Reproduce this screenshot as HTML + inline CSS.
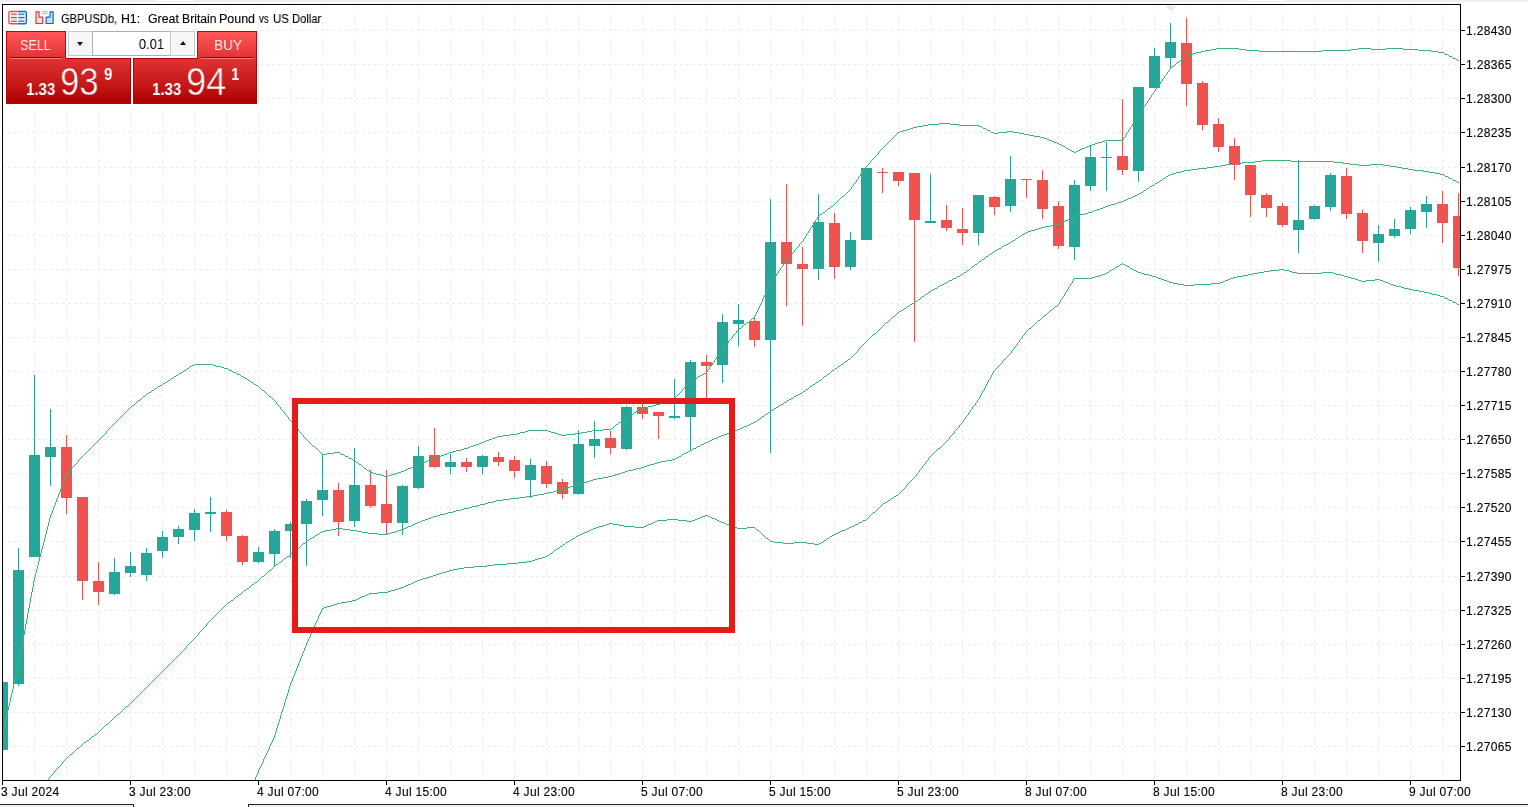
<!DOCTYPE html>
<html><head><meta charset="utf-8"><title>GBPUSDb H1</title>
<style>
html,body{margin:0;padding:0;background:#fff;}
body{width:1528px;height:807px;position:relative;overflow:hidden;font-family:"Liberation Sans",sans-serif;}
#chart{position:absolute;left:0;top:0;}
.pl{-webkit-text-stroke:0.12px #000;will-change:transform;position:absolute;left:1466px;font-size:12px;line-height:14px;height:14px;color:#000;letter-spacing:0.33px;white-space:nowrap;}
.tl{-webkit-text-stroke:0.12px #000;will-change:transform;position:absolute;top:785px;font-size:12px;line-height:14px;height:14px;color:#000;letter-spacing:0.3px;white-space:nowrap;}
#topstrip{position:absolute;left:0;top:0;width:1528px;height:2px;background:#f0f0f0;}
.notch{position:absolute;top:0;height:1px;background:#fff;}
#title{position:absolute;left:0;top:12px;font-size:12px;line-height:14px;color:#000;white-space:pre;}
.tw{-webkit-text-stroke:0.12px #000;will-change:transform;position:absolute;top:0;transform-origin:0 0;white-space:pre;}
#botline1{position:absolute;left:0;top:804px;width:134px;height:3px;border-top:1px solid #222;border-right:1px solid #222;box-sizing:border-box;background:#f0f0f0;}
#botline2{position:absolute;left:248px;top:804px;width:1280px;height:3px;border-top:1px solid #222;border-left:1px solid #222;box-sizing:border-box;background:#f0f0f0;}
/* one click panel */
#ocp{position:absolute;left:0;top:0;}
.btn{position:absolute;top:31px;height:28px;width:60px;box-sizing:border-box;border:1px solid #b80808;border-bottom:none;background:linear-gradient(#ff5656,#e23232);}
.btn span{will-change:transform;position:absolute;top:3.5px;left:0;font-size:15px;line-height:18px;color:#ffeeee;transform-origin:0 0;white-space:pre;}
.price{position:absolute;top:58px;height:46px;box-sizing:border-box;border:1px solid #b00505;background:linear-gradient(#e03333,#c81c1c 50%,#b00000);}
#ps{left:6px;width:125px;} #pb{left:133px;width:124px;}
.sep{position:absolute;top:57px;height:1px;width:52px;background:#8e0505;border-bottom:1px solid #ff7a7a;}
.small{will-change:transform;position:absolute;font-weight:bold;font-size:16px;line-height:18px;color:#fff;white-space:pre;transform-origin:0 0;transform:scaleX(0.94);}
.big{will-change:transform;position:absolute;font-size:39px;line-height:40px;color:#fff;transform-origin:0 0;transform:scaleX(0.89);-webkit-text-stroke:0.5px #c61b1b;white-space:pre;}
.sup{will-change:transform;position:absolute;font-weight:bold;font-size:16px;line-height:18px;color:#fff;white-space:pre;transform-origin:0 0;transform:scaleX(0.94);}
#spin{position:absolute;left:68px;top:31px;width:127px;height:25px;box-sizing:border-box;background:#fff;}
#spin .l{position:absolute;left:0;top:0;width:25px;height:25px;box-sizing:border-box;background:#f7f7f7;border:1px solid #c9c9c9;}
#spin .r{position:absolute;right:0;top:0;width:25px;height:25px;box-sizing:border-box;background:#f7f7f7;border:1px solid #c9c9c9;}
#spin .v{position:absolute;left:24px;width:79px;top:0;height:25px;box-sizing:border-box;border:1px solid #a9aebb;background:#fff;}
#spin .v span{will-change:transform;position:absolute;right:6px;top:2.5px;font-size:15px;line-height:18px;color:#000;transform-origin:100% 0;transform:scaleX(0.87);white-space:pre;}
.tri{position:absolute;width:0;height:0;border-left:3.5px solid transparent;border-right:3.5px solid transparent;}
#icons{position:absolute;left:0;top:0;}
</style></head><body>
<svg id="chart" width="1528" height="807" viewBox="0 0 1528 807" shape-rendering="crispEdges">
<defs><clipPath id="cp"><rect x="3" y="5" width="1457" height="775"/></clipPath></defs>
<line x1="34.5" y1="4" x2="34.5" y2="780" stroke="#efe9ef" stroke-dasharray="3 3"/>
<line x1="66.5" y1="4" x2="66.5" y2="780" stroke="#efe9ef" stroke-dasharray="3 3"/>
<line x1="98.5" y1="4" x2="98.5" y2="780" stroke="#efe9ef" stroke-dasharray="3 3"/>
<line x1="130.5" y1="4" x2="130.5" y2="780" stroke="#efe9ef" stroke-dasharray="3 3"/>
<line x1="162.5" y1="4" x2="162.5" y2="780" stroke="#efe9ef" stroke-dasharray="3 3"/>
<line x1="194.5" y1="4" x2="194.5" y2="780" stroke="#efe9ef" stroke-dasharray="3 3"/>
<line x1="226.5" y1="4" x2="226.5" y2="780" stroke="#efe9ef" stroke-dasharray="3 3"/>
<line x1="258.5" y1="4" x2="258.5" y2="780" stroke="#efe9ef" stroke-dasharray="3 3"/>
<line x1="290.5" y1="4" x2="290.5" y2="780" stroke="#efe9ef" stroke-dasharray="3 3"/>
<line x1="322.5" y1="4" x2="322.5" y2="780" stroke="#efe9ef" stroke-dasharray="3 3"/>
<line x1="354.5" y1="4" x2="354.5" y2="780" stroke="#efe9ef" stroke-dasharray="3 3"/>
<line x1="386.5" y1="4" x2="386.5" y2="780" stroke="#efe9ef" stroke-dasharray="3 3"/>
<line x1="418.5" y1="4" x2="418.5" y2="780" stroke="#efe9ef" stroke-dasharray="3 3"/>
<line x1="450.5" y1="4" x2="450.5" y2="780" stroke="#efe9ef" stroke-dasharray="3 3"/>
<line x1="482.5" y1="4" x2="482.5" y2="780" stroke="#efe9ef" stroke-dasharray="3 3"/>
<line x1="514.5" y1="4" x2="514.5" y2="780" stroke="#efe9ef" stroke-dasharray="3 3"/>
<line x1="546.5" y1="4" x2="546.5" y2="780" stroke="#efe9ef" stroke-dasharray="3 3"/>
<line x1="578.5" y1="4" x2="578.5" y2="780" stroke="#efe9ef" stroke-dasharray="3 3"/>
<line x1="610.5" y1="4" x2="610.5" y2="780" stroke="#efe9ef" stroke-dasharray="3 3"/>
<line x1="642.5" y1="4" x2="642.5" y2="780" stroke="#efe9ef" stroke-dasharray="3 3"/>
<line x1="674.5" y1="4" x2="674.5" y2="780" stroke="#efe9ef" stroke-dasharray="3 3"/>
<line x1="706.5" y1="4" x2="706.5" y2="780" stroke="#efe9ef" stroke-dasharray="3 3"/>
<line x1="738.5" y1="4" x2="738.5" y2="780" stroke="#efe9ef" stroke-dasharray="3 3"/>
<line x1="770.5" y1="4" x2="770.5" y2="780" stroke="#efe9ef" stroke-dasharray="3 3"/>
<line x1="802.5" y1="4" x2="802.5" y2="780" stroke="#efe9ef" stroke-dasharray="3 3"/>
<line x1="834.5" y1="4" x2="834.5" y2="780" stroke="#efe9ef" stroke-dasharray="3 3"/>
<line x1="866.5" y1="4" x2="866.5" y2="780" stroke="#efe9ef" stroke-dasharray="3 3"/>
<line x1="898.5" y1="4" x2="898.5" y2="780" stroke="#efe9ef" stroke-dasharray="3 3"/>
<line x1="930.5" y1="4" x2="930.5" y2="780" stroke="#efe9ef" stroke-dasharray="3 3"/>
<line x1="962.5" y1="4" x2="962.5" y2="780" stroke="#efe9ef" stroke-dasharray="3 3"/>
<line x1="994.5" y1="4" x2="994.5" y2="780" stroke="#efe9ef" stroke-dasharray="3 3"/>
<line x1="1026.5" y1="4" x2="1026.5" y2="780" stroke="#efe9ef" stroke-dasharray="3 3"/>
<line x1="1058.5" y1="4" x2="1058.5" y2="780" stroke="#efe9ef" stroke-dasharray="3 3"/>
<line x1="1090.5" y1="4" x2="1090.5" y2="780" stroke="#efe9ef" stroke-dasharray="3 3"/>
<line x1="1122.5" y1="4" x2="1122.5" y2="780" stroke="#efe9ef" stroke-dasharray="3 3"/>
<line x1="1154.5" y1="4" x2="1154.5" y2="780" stroke="#efe9ef" stroke-dasharray="3 3"/>
<line x1="1186.5" y1="4" x2="1186.5" y2="780" stroke="#efe9ef" stroke-dasharray="3 3"/>
<line x1="1218.5" y1="4" x2="1218.5" y2="780" stroke="#efe9ef" stroke-dasharray="3 3"/>
<line x1="1250.5" y1="4" x2="1250.5" y2="780" stroke="#efe9ef" stroke-dasharray="3 3"/>
<line x1="1282.5" y1="4" x2="1282.5" y2="780" stroke="#efe9ef" stroke-dasharray="3 3"/>
<line x1="1314.5" y1="4" x2="1314.5" y2="780" stroke="#efe9ef" stroke-dasharray="3 3"/>
<line x1="1346.5" y1="4" x2="1346.5" y2="780" stroke="#efe9ef" stroke-dasharray="3 3"/>
<line x1="1378.5" y1="4" x2="1378.5" y2="780" stroke="#efe9ef" stroke-dasharray="3 3"/>
<line x1="1410.5" y1="4" x2="1410.5" y2="780" stroke="#efe9ef" stroke-dasharray="3 3"/>
<line x1="1442.5" y1="4" x2="1442.5" y2="780" stroke="#efe9ef" stroke-dasharray="3 3"/>
<line x1="2" y1="30.5" x2="1460" y2="30.5" stroke="#efe9ef" stroke-dasharray="3 3"/>
<line x1="2" y1="64.5" x2="1460" y2="64.5" stroke="#efe9ef" stroke-dasharray="3 3"/>
<line x1="2" y1="98.5" x2="1460" y2="98.5" stroke="#efe9ef" stroke-dasharray="3 3"/>
<line x1="2" y1="132.5" x2="1460" y2="132.5" stroke="#efe9ef" stroke-dasharray="3 3"/>
<line x1="2" y1="167.5" x2="1460" y2="167.5" stroke="#efe9ef" stroke-dasharray="3 3"/>
<line x1="2" y1="201.5" x2="1460" y2="201.5" stroke="#efe9ef" stroke-dasharray="3 3"/>
<line x1="2" y1="235.5" x2="1460" y2="235.5" stroke="#efe9ef" stroke-dasharray="3 3"/>
<line x1="2" y1="269.5" x2="1460" y2="269.5" stroke="#efe9ef" stroke-dasharray="3 3"/>
<line x1="2" y1="303.5" x2="1460" y2="303.5" stroke="#efe9ef" stroke-dasharray="3 3"/>
<line x1="2" y1="337.5" x2="1460" y2="337.5" stroke="#efe9ef" stroke-dasharray="3 3"/>
<line x1="2" y1="371.5" x2="1460" y2="371.5" stroke="#efe9ef" stroke-dasharray="3 3"/>
<line x1="2" y1="405.5" x2="1460" y2="405.5" stroke="#efe9ef" stroke-dasharray="3 3"/>
<line x1="2" y1="439.5" x2="1460" y2="439.5" stroke="#efe9ef" stroke-dasharray="3 3"/>
<line x1="2" y1="473.5" x2="1460" y2="473.5" stroke="#efe9ef" stroke-dasharray="3 3"/>
<line x1="2" y1="507.5" x2="1460" y2="507.5" stroke="#efe9ef" stroke-dasharray="3 3"/>
<line x1="2" y1="541.5" x2="1460" y2="541.5" stroke="#efe9ef" stroke-dasharray="3 3"/>
<line x1="2" y1="576.5" x2="1460" y2="576.5" stroke="#efe9ef" stroke-dasharray="3 3"/>
<line x1="2" y1="610.5" x2="1460" y2="610.5" stroke="#efe9ef" stroke-dasharray="3 3"/>
<line x1="2" y1="644.5" x2="1460" y2="644.5" stroke="#efe9ef" stroke-dasharray="3 3"/>
<line x1="2" y1="678.5" x2="1460" y2="678.5" stroke="#efe9ef" stroke-dasharray="3 3"/>
<line x1="2" y1="712.5" x2="1460" y2="712.5" stroke="#efe9ef" stroke-dasharray="3 3"/>
<line x1="2" y1="746.5" x2="1460" y2="746.5" stroke="#efe9ef" stroke-dasharray="3 3"/>
<g clip-path="url(#cp)">
<rect x="2" y="682" width="1" height="68" fill="#26a69a"/>
<rect x="-3" y="682" width="11" height="68" fill="#26a69a"/>
<rect x="18" y="548" width="1" height="138" fill="#26a69a"/>
<rect x="13" y="570" width="11" height="114" fill="#26a69a"/>
<rect x="34" y="375" width="1" height="182" fill="#26a69a"/>
<rect x="29" y="455" width="11" height="102" fill="#26a69a"/>
<rect x="50" y="409" width="1" height="77" fill="#26a69a"/>
<rect x="45" y="447" width="11" height="10" fill="#26a69a"/>
<rect x="66" y="435" width="1" height="79" fill="#ef5350"/>
<rect x="61" y="447" width="11" height="51" fill="#ef5350"/>
<rect x="82" y="497" width="1" height="103" fill="#ef5350"/>
<rect x="77" y="497" width="11" height="84" fill="#ef5350"/>
<rect x="98" y="562" width="1" height="43" fill="#ef5350"/>
<rect x="93" y="581" width="11" height="11" fill="#ef5350"/>
<rect x="114" y="558" width="1" height="37" fill="#26a69a"/>
<rect x="109" y="572" width="11" height="22" fill="#26a69a"/>
<rect x="130" y="552" width="1" height="25" fill="#26a69a"/>
<rect x="125" y="566" width="11" height="7" fill="#26a69a"/>
<rect x="146" y="548" width="1" height="33" fill="#26a69a"/>
<rect x="141" y="553" width="11" height="22" fill="#26a69a"/>
<rect x="162" y="531" width="1" height="27" fill="#26a69a"/>
<rect x="157" y="537" width="11" height="14" fill="#26a69a"/>
<rect x="178" y="526" width="1" height="18" fill="#26a69a"/>
<rect x="173" y="529" width="11" height="8" fill="#26a69a"/>
<rect x="194" y="509" width="1" height="32" fill="#26a69a"/>
<rect x="189" y="513" width="11" height="17" fill="#26a69a"/>
<rect x="210" y="497" width="1" height="35" fill="#26a69a"/>
<rect x="205" y="512" width="11" height="2" fill="#26a69a"/>
<rect x="226" y="510" width="1" height="31" fill="#ef5350"/>
<rect x="221" y="512" width="11" height="24" fill="#ef5350"/>
<rect x="242" y="535" width="1" height="30" fill="#ef5350"/>
<rect x="237" y="536" width="11" height="26" fill="#ef5350"/>
<rect x="258" y="547" width="1" height="16" fill="#26a69a"/>
<rect x="253" y="552" width="11" height="10" fill="#26a69a"/>
<rect x="274" y="529" width="1" height="37" fill="#26a69a"/>
<rect x="269" y="531" width="11" height="23" fill="#26a69a"/>
<rect x="290" y="522" width="1" height="36" fill="#26a69a"/>
<rect x="285" y="524" width="11" height="7" fill="#26a69a"/>
<rect x="306" y="499" width="1" height="67" fill="#26a69a"/>
<rect x="301" y="501" width="11" height="23" fill="#26a69a"/>
<rect x="322" y="454" width="1" height="62" fill="#26a69a"/>
<rect x="317" y="490" width="11" height="10" fill="#26a69a"/>
<rect x="338" y="483" width="1" height="53" fill="#ef5350"/>
<rect x="333" y="490" width="11" height="32" fill="#ef5350"/>
<rect x="354" y="448" width="1" height="79" fill="#26a69a"/>
<rect x="349" y="485" width="11" height="36" fill="#26a69a"/>
<rect x="370" y="470" width="1" height="38" fill="#ef5350"/>
<rect x="365" y="485" width="11" height="21" fill="#ef5350"/>
<rect x="386" y="470" width="1" height="64" fill="#ef5350"/>
<rect x="381" y="504" width="11" height="19" fill="#ef5350"/>
<rect x="402" y="485" width="1" height="50" fill="#26a69a"/>
<rect x="397" y="486" width="11" height="37" fill="#26a69a"/>
<rect x="418" y="446" width="1" height="43" fill="#26a69a"/>
<rect x="413" y="456" width="11" height="32" fill="#26a69a"/>
<rect x="434" y="428" width="1" height="40" fill="#ef5350"/>
<rect x="429" y="455" width="11" height="12" fill="#ef5350"/>
<rect x="450" y="454" width="1" height="20" fill="#26a69a"/>
<rect x="445" y="462" width="11" height="5" fill="#26a69a"/>
<rect x="466" y="458" width="1" height="14" fill="#ef5350"/>
<rect x="461" y="462" width="11" height="5" fill="#ef5350"/>
<rect x="482" y="455" width="1" height="19" fill="#26a69a"/>
<rect x="477" y="456" width="11" height="11" fill="#26a69a"/>
<rect x="498" y="452" width="1" height="14" fill="#ef5350"/>
<rect x="493" y="457" width="11" height="5" fill="#ef5350"/>
<rect x="514" y="456" width="1" height="22" fill="#ef5350"/>
<rect x="509" y="460" width="11" height="11" fill="#ef5350"/>
<rect x="530" y="459" width="1" height="39" fill="#26a69a"/>
<rect x="525" y="465" width="11" height="15" fill="#26a69a"/>
<rect x="546" y="461" width="1" height="27" fill="#ef5350"/>
<rect x="541" y="466" width="11" height="18" fill="#ef5350"/>
<rect x="562" y="479" width="1" height="20" fill="#ef5350"/>
<rect x="557" y="482" width="11" height="12" fill="#ef5350"/>
<rect x="578" y="430" width="1" height="65" fill="#26a69a"/>
<rect x="573" y="444" width="11" height="50" fill="#26a69a"/>
<rect x="594" y="421" width="1" height="37" fill="#26a69a"/>
<rect x="589" y="439" width="11" height="7" fill="#26a69a"/>
<rect x="610" y="431" width="1" height="23" fill="#ef5350"/>
<rect x="605" y="438" width="11" height="10" fill="#ef5350"/>
<rect x="626" y="406" width="1" height="44" fill="#26a69a"/>
<rect x="621" y="407" width="11" height="42" fill="#26a69a"/>
<rect x="642" y="402" width="1" height="17" fill="#ef5350"/>
<rect x="637" y="407" width="11" height="7" fill="#ef5350"/>
<rect x="658" y="412" width="1" height="27" fill="#ef5350"/>
<rect x="653" y="412" width="11" height="4" fill="#ef5350"/>
<rect x="674" y="379" width="1" height="40" fill="#26a69a"/>
<rect x="669" y="416" width="11" height="2" fill="#26a69a"/>
<rect x="690" y="360" width="1" height="90" fill="#26a69a"/>
<rect x="685" y="362" width="11" height="55" fill="#26a69a"/>
<rect x="706" y="355" width="1" height="46" fill="#ef5350"/>
<rect x="701" y="362" width="11" height="4" fill="#ef5350"/>
<rect x="722" y="314" width="1" height="69" fill="#26a69a"/>
<rect x="717" y="322" width="11" height="43" fill="#26a69a"/>
<rect x="738" y="304" width="1" height="42" fill="#26a69a"/>
<rect x="733" y="320" width="11" height="4" fill="#26a69a"/>
<rect x="754" y="318" width="1" height="29" fill="#ef5350"/>
<rect x="749" y="321" width="11" height="19" fill="#ef5350"/>
<rect x="770" y="199" width="1" height="254" fill="#26a69a"/>
<rect x="765" y="242" width="11" height="98" fill="#26a69a"/>
<rect x="786" y="184" width="1" height="122" fill="#ef5350"/>
<rect x="781" y="242" width="11" height="22" fill="#ef5350"/>
<rect x="802" y="247" width="1" height="79" fill="#ef5350"/>
<rect x="797" y="264" width="11" height="5" fill="#ef5350"/>
<rect x="818" y="194" width="1" height="86" fill="#26a69a"/>
<rect x="813" y="222" width="11" height="47" fill="#26a69a"/>
<rect x="834" y="213" width="1" height="66" fill="#ef5350"/>
<rect x="829" y="223" width="11" height="44" fill="#ef5350"/>
<rect x="850" y="232" width="1" height="38" fill="#26a69a"/>
<rect x="845" y="240" width="11" height="27" fill="#26a69a"/>
<rect x="866" y="168" width="1" height="72" fill="#26a69a"/>
<rect x="861" y="168" width="11" height="72" fill="#26a69a"/>
<rect x="882" y="168" width="1" height="25" fill="#ef5350"/>
<rect x="877" y="172" width="11" height="1" fill="#ef5350"/>
<rect x="898" y="172" width="1" height="14" fill="#ef5350"/>
<rect x="893" y="172" width="11" height="9" fill="#ef5350"/>
<rect x="914" y="173" width="1" height="169" fill="#ef5350"/>
<rect x="909" y="173" width="11" height="47" fill="#ef5350"/>
<rect x="930" y="174" width="1" height="49" fill="#26a69a"/>
<rect x="925" y="221" width="11" height="2" fill="#26a69a"/>
<rect x="946" y="205" width="1" height="26" fill="#ef5350"/>
<rect x="941" y="220" width="11" height="8" fill="#ef5350"/>
<rect x="962" y="208" width="1" height="37" fill="#ef5350"/>
<rect x="957" y="229" width="11" height="4" fill="#ef5350"/>
<rect x="978" y="195" width="1" height="50" fill="#26a69a"/>
<rect x="973" y="195" width="11" height="38" fill="#26a69a"/>
<rect x="994" y="196" width="1" height="19" fill="#ef5350"/>
<rect x="989" y="197" width="11" height="10" fill="#ef5350"/>
<rect x="1010" y="156" width="1" height="56" fill="#26a69a"/>
<rect x="1005" y="179" width="11" height="27" fill="#26a69a"/>
<rect x="1026" y="179" width="1" height="19" fill="#ef5350"/>
<rect x="1021" y="179" width="11" height="1" fill="#ef5350"/>
<rect x="1042" y="170" width="1" height="49" fill="#ef5350"/>
<rect x="1037" y="180" width="11" height="29" fill="#ef5350"/>
<rect x="1058" y="201" width="1" height="48" fill="#ef5350"/>
<rect x="1053" y="206" width="11" height="40" fill="#ef5350"/>
<rect x="1074" y="180" width="1" height="80" fill="#26a69a"/>
<rect x="1069" y="185" width="11" height="62" fill="#26a69a"/>
<rect x="1090" y="145" width="1" height="46" fill="#26a69a"/>
<rect x="1085" y="157" width="11" height="29" fill="#26a69a"/>
<rect x="1106" y="142" width="1" height="49" fill="#26a69a"/>
<rect x="1101" y="157" width="11" height="1" fill="#26a69a"/>
<rect x="1122" y="99" width="1" height="76" fill="#ef5350"/>
<rect x="1117" y="156" width="11" height="14" fill="#ef5350"/>
<rect x="1138" y="87" width="1" height="95" fill="#26a69a"/>
<rect x="1133" y="87" width="11" height="84" fill="#26a69a"/>
<rect x="1154" y="48" width="1" height="40" fill="#26a69a"/>
<rect x="1149" y="56" width="11" height="32" fill="#26a69a"/>
<rect x="1170" y="23" width="1" height="46" fill="#26a69a"/>
<rect x="1165" y="42" width="11" height="16" fill="#26a69a"/>
<rect x="1186" y="18" width="1" height="88" fill="#ef5350"/>
<rect x="1181" y="43" width="11" height="41" fill="#ef5350"/>
<rect x="1202" y="81" width="1" height="49" fill="#ef5350"/>
<rect x="1197" y="83" width="11" height="42" fill="#ef5350"/>
<rect x="1218" y="118" width="1" height="34" fill="#ef5350"/>
<rect x="1213" y="124" width="11" height="23" fill="#ef5350"/>
<rect x="1234" y="138" width="1" height="42" fill="#ef5350"/>
<rect x="1229" y="146" width="11" height="19" fill="#ef5350"/>
<rect x="1250" y="165" width="1" height="52" fill="#ef5350"/>
<rect x="1245" y="165" width="11" height="30" fill="#ef5350"/>
<rect x="1266" y="193" width="1" height="24" fill="#ef5350"/>
<rect x="1261" y="195" width="11" height="13" fill="#ef5350"/>
<rect x="1282" y="203" width="1" height="24" fill="#ef5350"/>
<rect x="1277" y="206" width="11" height="19" fill="#ef5350"/>
<rect x="1298" y="160" width="1" height="93" fill="#26a69a"/>
<rect x="1293" y="220" width="11" height="10" fill="#26a69a"/>
<rect x="1314" y="205" width="1" height="15" fill="#26a69a"/>
<rect x="1309" y="206" width="11" height="13" fill="#26a69a"/>
<rect x="1330" y="173" width="1" height="38" fill="#26a69a"/>
<rect x="1325" y="175" width="11" height="32" fill="#26a69a"/>
<rect x="1346" y="168" width="1" height="51" fill="#ef5350"/>
<rect x="1341" y="176" width="11" height="38" fill="#ef5350"/>
<rect x="1362" y="210" width="1" height="43" fill="#ef5350"/>
<rect x="1357" y="213" width="11" height="28" fill="#ef5350"/>
<rect x="1378" y="225" width="1" height="37" fill="#26a69a"/>
<rect x="1373" y="234" width="11" height="9" fill="#26a69a"/>
<rect x="1394" y="219" width="1" height="19" fill="#26a69a"/>
<rect x="1389" y="229" width="11" height="7" fill="#26a69a"/>
<rect x="1410" y="207" width="1" height="27" fill="#26a69a"/>
<rect x="1405" y="210" width="11" height="19" fill="#26a69a"/>
<rect x="1426" y="196" width="1" height="32" fill="#26a69a"/>
<rect x="1421" y="204" width="11" height="8" fill="#26a69a"/>
<rect x="1442" y="191" width="1" height="52" fill="#ef5350"/>
<rect x="1437" y="204" width="11" height="19" fill="#ef5350"/>
<rect x="1458" y="193" width="1" height="83" fill="#ef5350"/>
<rect x="1453" y="216" width="11" height="52" fill="#ef5350"/>
<path d="M1216 48.5h23M1358 48.5h13M1386 48.5h17M1211 49.5h5M1239 49.5h7M1351 49.5h7M1371 49.5h15M1403 49.5h15M1205 50.5h6M1246 50.5h13M1322 50.5h29M1418 50.5h13M1201 51.5h4M1259 51.5h63M1431 51.5h7M1196 52.5h5M1438 52.5h6M1193 53.5h3M1188 54.5h5M1445 54.5h3M1186 55.5h2M1449 56.5h3M1183 57.5h2M1453 58.5h3M1457 60.5h2M1177 62.5h2M1172 66.5h2M939 123.5h11M928 124.5h11M950 124.5h9M923 125.5h5M959 125.5h20M917 126.5h6M979 126.5h3M913 127.5h4M910 128.5h3M983 128.5h3M907 129.5h3M903 130.5h4M987 130.5h3M900 131.5h3M1007 131.5h6M898 132.5h2M991 132.5h3M998 132.5h9M1013 132.5h6M994 133.5h4M1019 133.5h5M1024 134.5h5M1029 135.5h5M1034 136.5h6M1040 137.5h4M1044 138.5h3M1047 139.5h2M1049 140.5h3M1105 140.5h18M1052 141.5h2M1102 141.5h3M1054 142.5h3M1098 142.5h4M1057 143.5h2M1095 143.5h3M1059 144.5h2M1092 144.5h3M1061 145.5h2M1089 145.5h3M1063 146.5h2M1087 146.5h2M1085 147.5h2M1066 148.5h2M1082 148.5h3M1068 149.5h2M1080 149.5h2M1070 150.5h2M1078 150.5h2M1072 151.5h2M1076 151.5h2M1074 152.5h2M842 196.5h2M831 206.5h2M828 208.5h2M823 212.5h2M820 214.5h2M752 318.5h2M747 322.5h2M744 324.5h2M739 328.5h2M194 364.5h19M192 365.5h2M213 365.5h3M190 366.5h2M216 366.5h5M221 367.5h3M187 368.5h2M224 368.5h4M184 370.5h2M229 370.5h3M181 372.5h2M233 372.5h3M179 373.5h2M704 373.5h2M237 374.5h3M702 374.5h2M176 375.5h2M700 375.5h2M174 376.5h2M241 376.5h2M698 376.5h2M243 377.5h2M171 378.5h2M245 378.5h2M695 378.5h2M693 379.5h2M168 380.5h2M248 380.5h2M691 380.5h2M165 382.5h2M251 382.5h2M163 383.5h2M254 384.5h2M160 385.5h2M256 385.5h2M158 386.5h2M155 388.5h2M152 390.5h2M262 390.5h2M149 392.5h2M147 393.5h2M143 396.5h2M269 396.5h2M673 398.5h2M671 399.5h2M138 400.5h2M668 400.5h3M665 401.5h3M662 402.5h3M660 403.5h2M656 404.5h4M132 405.5h2M653 405.5h3M648 406.5h5M645 407.5h3M642 408.5h3M640 409.5h2M638 410.5h2M636 411.5h2M634 412.5h2M631 414.5h2M629 415.5h2M627 416.5h2M624 418.5h2M619 422.5h2M616 424.5h2M611 428.5h2M603 429.5h8M528 430.5h20M592 430.5h11M525 431.5h3M548 431.5h3M587 431.5h5M520 432.5h5M551 432.5h4M581 432.5h6M517 433.5h3M555 433.5h3M575 433.5h6M510 434.5h7M558 434.5h3M566 434.5h9M503 435.5h7M561 435.5h5M497 436.5h6M495 437.5h2M492 438.5h3M489 439.5h3M486 440.5h3M484 441.5h2M481 442.5h3M479 443.5h2M476 444.5h3M473 445.5h3M313 446.5h2M470 446.5h3M468 447.5h2M464 448.5h4M461 449.5h3M456 450.5h5M453 451.5h3M334 452.5h6M449 452.5h4M327 453.5h7M447 453.5h2M322 454.5h5M341 454.5h3M444 454.5h3M441 455.5h3M345 456.5h3M438 456.5h3M436 457.5h2M349 458.5h3M433 458.5h3M431 459.5h2M353 460.5h2M428 460.5h3M425 461.5h3M356 462.5h2M422 462.5h3M420 463.5h2M359 464.5h2M417 464.5h3M415 465.5h2M413 466.5h2M411 467.5h2M364 468.5h2M408 468.5h3M406 469.5h2M367 470.5h2M404 470.5h2M401 471.5h3M370 472.5h3M398 472.5h3M373 473.5h3M395 473.5h3M376 474.5h5M391 474.5h4M381 475.5h3M388 475.5h3M384 476.5h4M3.5 728v4M4.5 724v4M5.5 719v5M6.5 715v4M7.5 710v5M8.5 706v4M9.5 702v4M10.5 697v5M11.5 693v4M12.5 689v4M13.5 684v5M14.5 680v4M15.5 675v5M16.5 671v4M17.5 667v4M18.5 662v5M19.5 656v6M20.5 651v5M21.5 646v5M22.5 640v6M23.5 635v5M24.5 630v5M25.5 624v6M26.5 619v5M27.5 613v6M28.5 608v5M29.5 603v5M30.5 597v6M31.5 592v5M32.5 587v5M33.5 581v6M34.5 577v4M35.5 573v4M36.5 569v4M37.5 565v4M38.5 561v4M39.5 557v4M40.5 553v4M41.5 549v4M42.5 546v3M43.5 542v4M44.5 538v4M45.5 534v4M46.5 530v4M47.5 526v4M48.5 522v4M49.5 518v4M50.5 515v3M51.5 513v2M52.5 510v3M53.5 507v3M54.5 505v2M55.5 502v3M56.5 499v3M57.5 497v2M58.5 494v3M59.5 492v2M60.5 489v3M61.5 486v3M62.5 484v2M63.5 481v3M64.5 478v3M65.5 476v2M66.5 474v2M67.5 473v1M68.5 472v1M69.5 471v1M70.5 469v2M71.5 468v1M72.5 467v1M73.5 466v1M74.5 465v1M75.5 464v1M76.5 463v1M77.5 462v1M78.5 460v2M79.5 459v1M80.5 458v1M81.5 457v1M82.5 456v1M83.5 455v1M84.5 454v1M85.5 453v1M86.5 452v1M87.5 451v1M88.5 450v1M89.5 449v1M90.5 448v1M91.5 447v1M92.5 446v1M93.5 445v1M94.5 444v1M95.5 443v1M96.5 442v1M97.5 441v1M98.5 440v1M99.5 439v1M100.5 438v1M101.5 437v1M102.5 436v1M103.5 435v1M104.5 434v1M105.5 433v1M106.5 431v2M107.5 430v1M108.5 429v1M109.5 428v1M110.5 427v1M111.5 426v1M112.5 425v1M113.5 424v1M114.5 423v1M115.5 422v1M116.5 421v1M117.5 420v1M118.5 419v1M119.5 418v1M120.5 417v1M121.5 416v1M122.5 415v1M123.5 414v1M124.5 413v1M125.5 412v1M126.5 411v1M127.5 410v1M128.5 409v1M129.5 408v1M130.5 407v1M131.5 406v1M134.5 404v1M135.5 403v1M136.5 402v1M137.5 401v1M140.5 399v1M141.5 398v1M142.5 397v1M145.5 395v1M146.5 394v1M151.5 391v1M154.5 389v1M157.5 387v1M162.5 384v1M167.5 381v1M170.5 379v1M173.5 377v1M178.5 374v1M183.5 371v1M186.5 369v1M189.5 367v1M228.5 369v1M232.5 371v1M236.5 373v1M240.5 375v1M247.5 379v1M250.5 381v1M253.5 383v1M258.5 386v1M259.5 387v1M260.5 388v1M261.5 389v1M264.5 391v1M265.5 392v1M266.5 393v1M267.5 394v1M268.5 395v1M271.5 397v1M272.5 398v1M273.5 399v1M274.5 400v1M275.5 401v1M276.5 402v2M277.5 404v1M278.5 405v1M279.5 406v1M280.5 407v2M281.5 409v1M282.5 410v1M283.5 411v1M284.5 412v2M285.5 414v1M286.5 415v1M287.5 416v1M288.5 417v2M289.5 419v1M290.5 420v1M291.5 421v1M292.5 422v1M293.5 423v2M294.5 425v1M295.5 426v1M296.5 427v1M297.5 428v1M298.5 429v2M299.5 431v1M300.5 432v1M301.5 433v1M302.5 434v1M303.5 435v2M304.5 437v1M305.5 438v1M306.5 439v1M307.5 440v1M308.5 441v1M309.5 442v1M310.5 443v1M311.5 444v1M312.5 445v1M315.5 447v1M316.5 448v1M317.5 449v1M318.5 450v1M319.5 451v1M320.5 452v1M321.5 453v1M340.5 453v1M344.5 455v1M348.5 457v1M352.5 459v1M355.5 461v1M358.5 463v1M361.5 465v1M362.5 466v1M363.5 467v1M366.5 469v1M369.5 471v1M613.5 427v1M614.5 426v1M615.5 425v1M618.5 423v1M621.5 421v1M622.5 420v1M623.5 419v1M626.5 417v1M633.5 413v1M675.5 397v1M676.5 396v1M677.5 395v1M678.5 394v1M679.5 393v1M680.5 392v1M681.5 391v1M682.5 389v2M683.5 388v1M684.5 387v1M685.5 386v1M686.5 385v1M687.5 384v1M688.5 383v1M689.5 382v1M690.5 381v1M697.5 377v1M706.5 372v1M707.5 370v2M708.5 369v1M709.5 367v2M710.5 366v1M711.5 365v1M712.5 363v2M713.5 362v1M714.5 360v2M715.5 359v1M716.5 357v2M717.5 356v1M718.5 355v1M719.5 353v2M720.5 352v1M721.5 350v2M722.5 349v1M723.5 348v1M724.5 346v2M725.5 345v1M726.5 344v1M727.5 343v1M728.5 341v2M729.5 340v1M730.5 339v1M731.5 338v1M732.5 336v2M733.5 335v1M734.5 334v1M735.5 333v1M736.5 331v2M737.5 330v1M738.5 329v1M741.5 327v1M742.5 326v1M743.5 325v1M746.5 323v1M749.5 321v1M750.5 320v1M751.5 319v1M754.5 316v2M755.5 314v2M756.5 312v2M757.5 310v2M758.5 308v2M759.5 306v2M760.5 304v2M761.5 302v2M762.5 299v3M763.5 297v2M764.5 295v2M765.5 293v2M766.5 291v2M767.5 289v2M768.5 287v2M769.5 285v2M770.5 283v2M771.5 281v2M772.5 280v1M773.5 278v2M774.5 277v1M775.5 276v1M776.5 274v2M777.5 273v1M778.5 271v2M779.5 270v1M780.5 268v2M781.5 267v1M782.5 266v1M783.5 264v2M784.5 263v1M785.5 261v2M786.5 260v1M787.5 259v1M788.5 258v1M789.5 256v2M790.5 255v1M791.5 254v1M792.5 253v1M793.5 252v1M794.5 250v2M795.5 249v1M796.5 248v1M797.5 247v1M798.5 246v1M799.5 244v2M800.5 243v1M801.5 242v1M802.5 241v1M803.5 239v2M804.5 238v1M805.5 236v2M806.5 234v2M807.5 233v1M808.5 231v2M809.5 230v1M810.5 228v2M811.5 227v1M812.5 225v2M813.5 224v1M814.5 222v2M815.5 220v2M816.5 219v1M817.5 217v2M818.5 216v1M819.5 215v1M822.5 213v1M825.5 211v1M826.5 210v1M827.5 209v1M830.5 207v1M833.5 205v1M834.5 204v1M835.5 203v1M836.5 202v1M837.5 201v1M838.5 200v1M839.5 199v1M840.5 198v1M841.5 197v1M844.5 195v1M845.5 194v1M846.5 193v1M847.5 192v1M848.5 191v1M849.5 190v1M850.5 189v1M851.5 187v2M852.5 186v1M853.5 184v2M854.5 183v1M855.5 182v1M856.5 180v2M857.5 179v1M858.5 177v2M859.5 176v1M860.5 174v2M861.5 173v1M862.5 172v1M863.5 170v2M864.5 169v1M865.5 167v2M866.5 166v1M867.5 165v1M868.5 164v1M869.5 163v1M870.5 161v2M871.5 160v1M872.5 159v1M873.5 158v1M874.5 157v1M875.5 156v1M876.5 155v1M877.5 154v1M878.5 152v2M879.5 151v1M880.5 150v1M881.5 149v1M882.5 148v1M883.5 147v1M884.5 146v1M885.5 145v1M886.5 144v1M887.5 143v1M888.5 142v1M889.5 141v1M890.5 140v1M891.5 139v1M892.5 138v1M893.5 137v1M894.5 136v1M895.5 135v1M896.5 134v1M897.5 133v1M982.5 127v1M986.5 129v1M990.5 131v1M1065.5 147v1M1123.5 138v2M1124.5 137v1M1125.5 135v2M1126.5 133v2M1127.5 132v1M1128.5 130v2M1129.5 129v1M1130.5 127v2M1131.5 126v1M1132.5 124v2M1133.5 123v1M1134.5 121v2M1135.5 119v2M1136.5 118v1M1137.5 116v2M1138.5 115v1M1139.5 113v2M1140.5 112v1M1141.5 110v2M1142.5 109v1M1143.5 107v2M1144.5 106v1M1145.5 104v2M1146.5 103v1M1147.5 101v2M1148.5 100v1M1149.5 98v2M1150.5 97v1M1151.5 95v2M1152.5 94v1M1153.5 92v2M1154.5 91v1M1155.5 89v2M1156.5 88v1M1157.5 86v2M1158.5 85v1M1159.5 84v1M1160.5 82v2M1161.5 81v1M1162.5 79v2M1163.5 78v1M1164.5 76v2M1165.5 75v1M1166.5 74v1M1167.5 72v2M1168.5 71v1M1169.5 69v2M1170.5 68v1M1171.5 67v1M1174.5 65v1M1175.5 64v1M1176.5 63v1M1179.5 61v1M1180.5 60v1M1181.5 59v1M1182.5 58v1M1185.5 56v1M1444.5 53v1M1448.5 55v1M1452.5 57v1M1456.5 59v1" fill="none" stroke="#3cb371" stroke-width="1"/>
<path d="M1262 160.5h29M1255 161.5h7M1291 161.5h43M1242 162.5h13M1334 162.5h9M1232 163.5h10M1343 163.5h7M1226 164.5h6M1350 164.5h9M1370 164.5h13M1221 165.5h5M1359 165.5h11M1383 165.5h7M1214 166.5h7M1390 166.5h7M1207 167.5h7M1397 167.5h5M1198 168.5h9M1402 168.5h6M1191 169.5h7M1408 169.5h6M1184 170.5h7M1414 170.5h9M1181 171.5h3M1423 171.5h6M1176 172.5h5M1429 172.5h6M1173 173.5h3M1435 173.5h5M1170 174.5h3M1440 174.5h4M1168 175.5h2M1166 176.5h2M1445 176.5h3M1163 178.5h2M1449 178.5h3M1160 180.5h2M1453 180.5h3M1157 182.5h2M1457 182.5h2M1155 183.5h2M1152 185.5h2M1150 186.5h2M1147 188.5h2M1144 190.5h2M1141 192.5h2M1139 193.5h2M1137 194.5h2M1135 195.5h2M1133 196.5h2M1131 197.5h2M1128 198.5h3M1126 199.5h2M1124 200.5h2M1121 201.5h3M1118 202.5h3M1115 203.5h3M1111 204.5h4M1108 205.5h3M1105 206.5h3M1103 207.5h2M1100 208.5h3M1097 209.5h3M1094 210.5h3M1092 211.5h2M1088 212.5h4M1085 213.5h3M1080 214.5h5M1077 215.5h3M1073 216.5h4M1069 218.5h3M1065 220.5h3M1061 222.5h3M1056 224.5h4M1051 225.5h5M1045 226.5h6M1041 227.5h4M1038 228.5h3M1035 229.5h3M1031 230.5h4M1028 231.5h3M1026 232.5h2M1024 233.5h2M1022 234.5h2M1019 236.5h2M1016 238.5h2M1013 240.5h2M1011 241.5h2M1008 243.5h2M1006 244.5h2M1004 245.5h2M1002 246.5h2M999 248.5h2M997 249.5h2M995 250.5h2M992 252.5h2M989 254.5h2M986 256.5h2M982 259.5h2M979 261.5h2M975 264.5h2M972 266.5h2M967 270.5h2M964 272.5h2M961 274.5h2M957 276.5h3M953 278.5h3M949 280.5h3M946 282.5h2M944 283.5h2M942 284.5h2M940 285.5h2M938 286.5h2M935 288.5h2M933 289.5h2M931 290.5h2M928 292.5h2M925 294.5h2M922 296.5h2M918 299.5h2M915 301.5h2M912 303.5h2M910 304.5h2M907 306.5h2M904 308.5h2M901 310.5h2M899 311.5h2M893 316.5h2M886 322.5h2M873 334.5h2M848 359.5h2M845 361.5h2M841 364.5h2M838 366.5h2M835 368.5h2M832 370.5h2M827 374.5h2M824 376.5h2M819 380.5h2M816 382.5h2M813 384.5h2M810 386.5h2M806 389.5h2M803 391.5h2M800 393.5h2M798 394.5h2M796 395.5h2M794 396.5h2M791 398.5h2M789 399.5h2M787 400.5h2M784 402.5h2M781 404.5h2M779 405.5h2M776 407.5h2M774 408.5h2M771 410.5h2M768 412.5h2M765 414.5h2M762 416.5h2M758 419.5h2M755 421.5h2M753 422.5h2M751 423.5h2M749 424.5h2M747 425.5h2M744 426.5h3M742 427.5h2M740 428.5h2M737 429.5h3M734 430.5h3M732 431.5h2M729 432.5h3M727 433.5h2M724 434.5h3M721 435.5h3M719 436.5h2M717 437.5h2M714 438.5h3M712 439.5h2M710 440.5h2M708 441.5h2M705 442.5h3M701 444.5h3M697 446.5h3M693 448.5h3M690 450.5h2M688 451.5h2M686 452.5h2M684 453.5h2M682 454.5h2M679 456.5h2M677 457.5h2M675 458.5h2M672 459.5h3M666 460.5h6M661 461.5h5M657 462.5h4M654 463.5h3M650 464.5h4M647 465.5h3M644 466.5h3M641 467.5h3M636 468.5h5M633 469.5h3M628 470.5h5M625 471.5h3M622 472.5h3M619 473.5h3M615 474.5h4M612 475.5h3M608 476.5h4M603 477.5h5M597 478.5h6M593 479.5h4M590 480.5h3M587 481.5h3M583 482.5h4M580 483.5h3M577 484.5h3M574 485.5h3M570 486.5h4M567 487.5h3M564 488.5h3M561 489.5h3M556 490.5h5M553 491.5h3M548 492.5h5M544 493.5h4M538 494.5h6M533 495.5h5M526 496.5h7M519 497.5h7M510 498.5h9M503 499.5h7M496 500.5h7M493 501.5h3M488 502.5h5M485 503.5h3M480 504.5h5M477 505.5h3M472 506.5h5M469 507.5h3M464 508.5h5M461 509.5h3M456 510.5h5M453 511.5h3M448 512.5h5M445 513.5h3M440 514.5h5M437 515.5h3M433 516.5h4M431 517.5h2M428 518.5h3M425 519.5h3M422 520.5h3M420 521.5h2M417 522.5h3M415 523.5h2M413 524.5h2M411 525.5h2M408 526.5h3M406 527.5h2M336 528.5h7M404 528.5h2M331 529.5h5M343 529.5h7M401 529.5h3M325 530.5h6M350 530.5h7M398 530.5h3M322 531.5h3M357 531.5h5M395 531.5h3M320 532.5h2M362 532.5h6M391 532.5h4M368 533.5h10M388 533.5h3M317 534.5h2M378 534.5h10M315 535.5h2M312 537.5h2M310 538.5h2M307 540.5h2M303 543.5h2M297 548.5h2M292 552.5h2M287 556.5h2M284 558.5h2M279 562.5h2M276 564.5h2M269 570.5h2M262 576.5h2M255 582.5h2M252 584.5h2M247 588.5h2M244 590.5h2M239 594.5h2M236 596.5h2M231 600.5h2M228 602.5h2M126 706.5h2M117 714.5h2M106 724.5h2M95 734.5h2M92 736.5h2M87 740.5h2M84 742.5h2M77 748.5h2M70 754.5h2M48.5 779v1M49.5 777v2M50.5 776v1M51.5 775v1M52.5 774v1M53.5 773v1M54.5 771v2M55.5 770v1M56.5 769v1M57.5 768v1M58.5 767v1M59.5 766v1M60.5 765v1M61.5 764v1M62.5 762v2M63.5 761v1M64.5 760v1M65.5 759v1M66.5 758v1M67.5 757v1M68.5 756v1M69.5 755v1M72.5 753v1M73.5 752v1M74.5 751v1M75.5 750v1M76.5 749v1M79.5 747v1M80.5 746v1M81.5 745v1M82.5 744v1M83.5 743v1M86.5 741v1M89.5 739v1M90.5 738v1M91.5 737v1M94.5 735v1M97.5 733v1M98.5 732v1M99.5 731v1M100.5 730v1M101.5 729v1M102.5 728v1M103.5 727v1M104.5 726v1M105.5 725v1M108.5 723v1M109.5 722v1M110.5 721v1M111.5 720v1M112.5 719v1M113.5 718v1M114.5 717v1M115.5 716v1M116.5 715v1M119.5 713v1M120.5 712v1M121.5 711v1M122.5 710v1M123.5 709v1M124.5 708v1M125.5 707v1M128.5 705v1M129.5 704v1M130.5 703v1M131.5 702v1M132.5 701v1M133.5 700v1M134.5 699v1M135.5 698v1M136.5 697v1M137.5 696v1M138.5 695v1M139.5 694v1M140.5 693v1M141.5 692v1M142.5 691v1M143.5 690v1M144.5 689v1M145.5 688v1M146.5 687v1M147.5 686v1M148.5 685v1M149.5 684v1M150.5 683v1M151.5 682v1M152.5 681v1M153.5 680v1M154.5 679v1M155.5 678v1M156.5 677v1M157.5 676v1M158.5 675v1M159.5 674v1M160.5 673v1M161.5 672v1M162.5 671v1M163.5 670v1M164.5 669v1M165.5 668v1M166.5 667v1M167.5 666v1M168.5 665v1M169.5 664v1M170.5 663v1M171.5 662v1M172.5 661v1M173.5 660v1M174.5 659v1M175.5 658v1M176.5 657v1M177.5 656v1M178.5 655v1M179.5 654v1M180.5 653v1M181.5 652v1M182.5 651v1M183.5 650v1M184.5 649v1M185.5 648v1M186.5 646v2M187.5 645v1M188.5 644v1M189.5 643v1M190.5 642v1M191.5 641v1M192.5 640v1M193.5 639v1M194.5 638v1M195.5 637v1M196.5 636v1M197.5 635v1M198.5 633v2M199.5 632v1M200.5 631v1M201.5 630v1M202.5 629v1M203.5 628v1M204.5 627v1M205.5 626v1M206.5 624v2M207.5 623v1M208.5 622v1M209.5 621v1M210.5 620v1M211.5 619v1M212.5 618v1M213.5 617v1M214.5 616v1M215.5 615v1M216.5 614v1M217.5 613v1M218.5 612v1M219.5 611v1M220.5 610v1M221.5 609v1M222.5 608v1M223.5 607v1M224.5 606v1M225.5 605v1M226.5 604v1M227.5 603v1M230.5 601v1M233.5 599v1M234.5 598v1M235.5 597v1M238.5 595v1M241.5 593v1M242.5 592v1M243.5 591v1M246.5 589v1M249.5 587v1M250.5 586v1M251.5 585v1M254.5 583v1M257.5 581v1M258.5 580v1M259.5 579v1M260.5 578v1M261.5 577v1M264.5 575v1M265.5 574v1M266.5 573v1M267.5 572v1M268.5 571v1M271.5 569v1M272.5 568v1M273.5 567v1M274.5 566v1M275.5 565v1M278.5 563v1M281.5 561v1M282.5 560v1M283.5 559v1M286.5 557v1M289.5 555v1M290.5 554v1M291.5 553v1M294.5 551v1M295.5 550v1M296.5 549v1M299.5 547v1M300.5 546v1M301.5 545v1M302.5 544v1M305.5 542v1M306.5 541v1M309.5 539v1M314.5 536v1M319.5 533v1M681.5 455v1M692.5 449v1M696.5 447v1M700.5 445v1M704.5 443v1M757.5 420v1M760.5 418v1M761.5 417v1M764.5 415v1M767.5 413v1M770.5 411v1M773.5 409v1M778.5 406v1M783.5 403v1M786.5 401v1M793.5 397v1M802.5 392v1M805.5 390v1M808.5 388v1M809.5 387v1M812.5 385v1M815.5 383v1M818.5 381v1M821.5 379v1M822.5 378v1M823.5 377v1M826.5 375v1M829.5 373v1M830.5 372v1M831.5 371v1M834.5 369v1M837.5 367v1M840.5 365v1M843.5 363v1M844.5 362v1M847.5 360v1M850.5 358v1M851.5 357v1M852.5 356v1M853.5 355v1M854.5 354v1M855.5 353v1M856.5 352v1M857.5 351v1M858.5 349v2M859.5 348v1M860.5 347v1M861.5 346v1M862.5 345v1M863.5 344v1M864.5 343v1M865.5 342v1M866.5 341v1M867.5 340v1M868.5 339v1M869.5 338v1M870.5 337v1M871.5 336v1M872.5 335v1M875.5 333v1M876.5 332v1M877.5 331v1M878.5 330v1M879.5 329v1M880.5 328v1M881.5 327v1M882.5 326v1M883.5 325v1M884.5 324v1M885.5 323v1M888.5 321v1M889.5 320v1M890.5 319v1M891.5 318v1M892.5 317v1M895.5 315v1M896.5 314v1M897.5 313v1M898.5 312v1M903.5 309v1M906.5 307v1M909.5 305v1M914.5 302v1M917.5 300v1M920.5 298v1M921.5 297v1M924.5 295v1M927.5 293v1M930.5 291v1M937.5 287v1M948.5 281v1M952.5 279v1M956.5 277v1M960.5 275v1M963.5 273v1M966.5 271v1M969.5 269v1M970.5 268v1M971.5 267v1M974.5 265v1M977.5 263v1M978.5 262v1M981.5 260v1M984.5 258v1M985.5 257v1M988.5 255v1M991.5 253v1M994.5 251v1M1001.5 247v1M1010.5 242v1M1015.5 239v1M1018.5 237v1M1021.5 235v1M1060.5 223v1M1064.5 221v1M1068.5 219v1M1072.5 217v1M1143.5 191v1M1146.5 189v1M1149.5 187v1M1154.5 184v1M1159.5 181v1M1162.5 179v1M1165.5 177v1M1444.5 175v1M1448.5 177v1M1452.5 179v1M1456.5 181v1" fill="none" stroke="#3cb371" stroke-width="1"/>
<path d="M1120 264.5h2M1123 264.5h2M1125 265.5h2M1117 266.5h2M1127 266.5h2M1115 267.5h2M1130 268.5h2M1112 269.5h2M1132 269.5h2M1279 269.5h5M1110 270.5h2M1134 270.5h2M1270 270.5h9M1284 270.5h5M1136 271.5h2M1264 271.5h6M1289 271.5h3M1107 272.5h2M1138 272.5h3M1258 272.5h6M1292 272.5h5M1322 272.5h11M1105 273.5h2M1141 273.5h3M1253 273.5h5M1297 273.5h25M1333 273.5h3M1102 274.5h3M1144 274.5h5M1248 274.5h5M1336 274.5h5M1099 275.5h3M1149 275.5h3M1243 275.5h5M1341 275.5h3M1095 276.5h4M1152 276.5h4M1237 276.5h6M1344 276.5h4M1092 277.5h3M1156 277.5h2M1233 277.5h4M1348 277.5h3M1074 278.5h18M1158 278.5h3M1230 278.5h3M1351 278.5h4M1161 279.5h3M1228 279.5h2M1355 279.5h3M1375 279.5h5M1164 280.5h3M1225 280.5h3M1358 280.5h3M1366 280.5h9M1380 280.5h3M1167 281.5h2M1223 281.5h2M1361 281.5h5M1383 281.5h2M1169 282.5h4M1220 282.5h3M1385 282.5h3M1173 283.5h5M1211 283.5h9M1388 283.5h2M1178 284.5h6M1194 284.5h17M1390 284.5h3M1184 285.5h10M1393 285.5h3M1396 286.5h5M1401 287.5h3M1404 288.5h5M1409 289.5h4M1413 290.5h6M1419 291.5h5M1424 292.5h5M1429 293.5h3M1432 294.5h5M1437 295.5h3M1440 296.5h4M1445 298.5h3M1449 300.5h3M1453 302.5h3M1457 304.5h2M1055 306.5h2M1050 310.5h2M1044 315.5h2M1038 320.5h2M1029 328.5h2M938 448.5h2M896 495.5h2M894 496.5h2M891 498.5h2M888 500.5h2M885 502.5h2M883 503.5h2M873 512.5h2M705 515.5h3M702 516.5h3M708 516.5h2M700 517.5h2M710 517.5h2M697 518.5h3M712 518.5h3M667 519.5h11M695 519.5h2M715 519.5h2M657 520.5h10M678 520.5h9M692 520.5h3M717 520.5h2M863 520.5h3M655 521.5h2M687 521.5h5M719 521.5h2M653 522.5h2M721 522.5h3M859 522.5h3M609 523.5h4M651 523.5h2M724 523.5h2M606 524.5h3M613 524.5h6M648 524.5h3M726 524.5h3M855 524.5h3M603 525.5h3M619 525.5h5M646 525.5h2M729 525.5h3M599 526.5h4M624 526.5h11M644 526.5h2M732 526.5h3M851 526.5h3M596 527.5h3M635 527.5h9M735 527.5h2M747 527.5h8M849 527.5h2M593 528.5h3M737 528.5h10M847 528.5h2M591 529.5h2M845 529.5h2M589 530.5h2M757 530.5h2M842 530.5h3M587 531.5h2M840 531.5h2M584 532.5h3M838 532.5h2M582 533.5h2M836 533.5h2M580 534.5h2M834 534.5h2M578 535.5h2M832 535.5h2M576 536.5h2M830 536.5h2M573 538.5h2M766 538.5h2M827 538.5h2M571 539.5h2M824 540.5h2M568 541.5h2M770 541.5h4M566 542.5h2M774 542.5h9M794 542.5h13M821 542.5h2M783 543.5h11M807 543.5h7M819 543.5h2M563 544.5h2M814 544.5h5M560 546.5h2M557 548.5h2M554 550.5h2M550 553.5h2M547 555.5h2M545 556.5h2M542 557.5h3M538 558.5h4M535 559.5h3M532 560.5h3M527 561.5h5M518 562.5h9M507 563.5h11M494 564.5h13M487 565.5h7M474 566.5h13M464 567.5h10M458 568.5h6M453 569.5h5M449 570.5h4M446 571.5h3M442 572.5h4M439 573.5h3M436 574.5h3M433 575.5h3M430 576.5h3M427 577.5h3M423 578.5h4M420 579.5h3M417 580.5h3M415 581.5h2M413 582.5h2M411 583.5h2M408 584.5h3M406 585.5h2M404 586.5h2M401 587.5h3M398 588.5h3M395 589.5h3M391 590.5h4M388 591.5h3M378 592.5h10M369 593.5h9M367 594.5h2M365 595.5h2M362 596.5h3M360 597.5h2M358 598.5h2M356 599.5h2M352 600.5h4M347 601.5h5M341 602.5h6M337 603.5h4M334 604.5h3M331 605.5h3M327 606.5h4M324 607.5h3M322 608.5h2M255.5 777v3M256.5 775v2M257.5 773v2M258.5 770v3M259.5 768v2M260.5 766v2M261.5 764v2M262.5 762v2M263.5 759v3M264.5 757v2M265.5 755v2M266.5 753v2M267.5 751v2M268.5 749v2M269.5 746v3M270.5 744v2M271.5 742v2M272.5 740v2M273.5 738v2M274.5 735v3M275.5 732v3M276.5 728v4M277.5 725v3M278.5 722v3M279.5 719v3M280.5 715v4M281.5 712v3M282.5 709v3M283.5 706v3M284.5 702v4M285.5 699v3M286.5 696v3M287.5 693v3M288.5 689v4M289.5 686v3M290.5 683v3M291.5 681v2M292.5 678v3M293.5 676v2M294.5 673v3M295.5 671v2M296.5 668v3M297.5 666v2M298.5 663v3M299.5 661v2M300.5 658v3M301.5 656v2M302.5 653v3M303.5 651v2M304.5 648v3M305.5 646v2M306.5 643v3M307.5 641v2M308.5 639v2M309.5 637v2M310.5 634v3M311.5 632v2M312.5 630v2M313.5 628v2M314.5 625v3M315.5 623v2M316.5 621v2M317.5 619v2M318.5 616v3M319.5 614v2M320.5 612v2M321.5 610v2M322.5 609v1M549.5 554v1M552.5 552v1M553.5 551v1M556.5 549v1M559.5 547v1M562.5 545v1M565.5 543v1M570.5 540v1M575.5 537v1M755.5 528v1M756.5 529v1M759.5 531v1M760.5 532v1M761.5 533v1M762.5 534v1M763.5 535v1M764.5 536v1M765.5 537v1M768.5 539v1M769.5 540v1M823.5 541v1M826.5 539v1M829.5 537v1M854.5 525v1M858.5 523v1M862.5 521v1M866.5 519v1M867.5 518v1M868.5 517v1M869.5 516v1M870.5 515v1M871.5 514v1M872.5 513v1M875.5 511v1M876.5 510v1M877.5 509v1M878.5 508v1M879.5 507v1M880.5 506v1M881.5 505v1M882.5 504v1M887.5 501v1M890.5 499v1M893.5 497v1M898.5 494v1M899.5 493v1M900.5 492v1M901.5 491v1M902.5 490v1M903.5 489v1M904.5 488v1M905.5 487v1M906.5 485v2M907.5 484v1M908.5 483v1M909.5 482v1M910.5 481v1M911.5 480v1M912.5 479v1M913.5 478v1M914.5 477v1M915.5 476v1M916.5 474v2M917.5 473v1M918.5 472v1M919.5 470v2M920.5 469v1M921.5 468v1M922.5 466v2M923.5 465v1M924.5 464v1M925.5 462v2M926.5 461v1M927.5 460v1M928.5 458v2M929.5 457v1M930.5 456v1M931.5 455v1M932.5 454v1M933.5 453v1M934.5 452v1M935.5 451v1M936.5 450v1M937.5 449v1M940.5 447v1M941.5 446v1M942.5 445v1M943.5 444v1M944.5 443v1M945.5 442v1M946.5 441v1M947.5 440v1M948.5 439v1M949.5 437v2M950.5 436v1M951.5 435v1M952.5 434v1M953.5 433v1M954.5 431v2M955.5 430v1M956.5 429v1M957.5 428v1M958.5 427v1M959.5 425v2M960.5 424v1M961.5 423v1M962.5 422v1M963.5 420v2M964.5 419v1M965.5 417v2M966.5 416v1M967.5 415v1M968.5 413v2M969.5 412v1M970.5 410v2M971.5 409v1M972.5 407v2M973.5 406v1M974.5 405v1M975.5 403v2M976.5 402v1M977.5 400v2M978.5 399v1M979.5 397v2M980.5 395v2M981.5 393v2M982.5 391v2M983.5 390v1M984.5 388v2M985.5 386v2M986.5 384v2M987.5 382v2M988.5 380v2M989.5 379v1M990.5 377v2M991.5 375v2M992.5 373v2M993.5 371v2M994.5 370v1M995.5 369v1M996.5 368v1M997.5 367v1M998.5 366v1M999.5 365v1M1000.5 364v1M1001.5 363v1M1002.5 361v2M1003.5 360v1M1004.5 359v1M1005.5 358v1M1006.5 357v1M1007.5 356v1M1008.5 355v1M1009.5 354v1M1010.5 353v1M1011.5 351v2M1012.5 350v1M1013.5 349v1M1014.5 347v2M1015.5 346v1M1016.5 345v1M1017.5 343v2M1018.5 342v1M1019.5 340v2M1020.5 339v1M1021.5 338v1M1022.5 336v2M1023.5 335v1M1024.5 334v1M1025.5 332v2M1026.5 331v1M1027.5 330v1M1028.5 329v1M1031.5 327v1M1032.5 326v1M1033.5 325v1M1034.5 324v1M1035.5 323v1M1036.5 322v1M1037.5 321v1M1040.5 319v1M1041.5 318v1M1042.5 317v1M1043.5 316v1M1046.5 314v1M1047.5 313v1M1048.5 312v1M1049.5 311v1M1052.5 309v1M1053.5 308v1M1054.5 307v1M1057.5 305v1M1058.5 304v1M1059.5 302v2M1060.5 300v2M1061.5 299v1M1062.5 297v2M1063.5 296v1M1064.5 294v2M1065.5 292v2M1066.5 291v1M1067.5 289v2M1068.5 287v2M1069.5 286v1M1070.5 284v2M1071.5 283v1M1072.5 281v2M1073.5 279v2M1109.5 271v1M1114.5 268v1M1119.5 265v1M1122.5 263v1M1129.5 267v1M1444.5 297v1M1448.5 299v1M1452.5 301v1M1456.5 303v1" fill="none" stroke="#3cb371" stroke-width="1"/>
</g>
<polygon points="1165,6 1176,6 1170.5,11.5" fill="#ece6ec"/>
<rect x="295" y="401" width="437" height="229" fill="none" stroke="#e31b1b" stroke-width="6"/>
<rect x="2" y="4" width="1459" height="1" fill="#000"/>
<rect x="2" y="4" width="1" height="777" fill="#000"/>
<rect x="1460" y="4" width="1" height="777" fill="#000"/>
<rect x="2" y="780" width="1459" height="1" fill="#000"/>
<rect x="1461" y="30" width="4" height="1" fill="#000"/>
<rect x="1461" y="64" width="4" height="1" fill="#000"/>
<rect x="1461" y="98" width="4" height="1" fill="#000"/>
<rect x="1461" y="132" width="4" height="1" fill="#000"/>
<rect x="1461" y="167" width="4" height="1" fill="#000"/>
<rect x="1461" y="201" width="4" height="1" fill="#000"/>
<rect x="1461" y="235" width="4" height="1" fill="#000"/>
<rect x="1461" y="269" width="4" height="1" fill="#000"/>
<rect x="1461" y="303" width="4" height="1" fill="#000"/>
<rect x="1461" y="337" width="4" height="1" fill="#000"/>
<rect x="1461" y="371" width="4" height="1" fill="#000"/>
<rect x="1461" y="405" width="4" height="1" fill="#000"/>
<rect x="1461" y="439" width="4" height="1" fill="#000"/>
<rect x="1461" y="473" width="4" height="1" fill="#000"/>
<rect x="1461" y="507" width="4" height="1" fill="#000"/>
<rect x="1461" y="541" width="4" height="1" fill="#000"/>
<rect x="1461" y="576" width="4" height="1" fill="#000"/>
<rect x="1461" y="610" width="4" height="1" fill="#000"/>
<rect x="1461" y="644" width="4" height="1" fill="#000"/>
<rect x="1461" y="678" width="4" height="1" fill="#000"/>
<rect x="1461" y="712" width="4" height="1" fill="#000"/>
<rect x="1461" y="746" width="4" height="1" fill="#000"/>
<rect x="2" y="781" width="1" height="4" fill="#000"/>
<rect x="130" y="781" width="1" height="4" fill="#000"/>
<rect x="258" y="781" width="1" height="4" fill="#000"/>
<rect x="386" y="781" width="1" height="4" fill="#000"/>
<rect x="514" y="781" width="1" height="4" fill="#000"/>
<rect x="642" y="781" width="1" height="4" fill="#000"/>
<rect x="770" y="781" width="1" height="4" fill="#000"/>
<rect x="898" y="781" width="1" height="4" fill="#000"/>
<rect x="1026" y="781" width="1" height="4" fill="#000"/>
<rect x="1154" y="781" width="1" height="4" fill="#000"/>
<rect x="1282" y="781" width="1" height="4" fill="#000"/>
<rect x="1410" y="781" width="1" height="4" fill="#000"/>
</svg>
<div id="topstrip"></div><div class="notch" style="left:157px;width:37px"></div><div class="notch" style="left:1247px;width:37px"></div>
<div class="pl" style="top:24px">1.28430</div><div class="pl" style="top:58px">1.28365</div><div class="pl" style="top:92px">1.28300</div><div class="pl" style="top:126px">1.28235</div><div class="pl" style="top:161px">1.28170</div><div class="pl" style="top:195px">1.28105</div><div class="pl" style="top:229px">1.28040</div><div class="pl" style="top:263px">1.27975</div><div class="pl" style="top:297px">1.27910</div><div class="pl" style="top:331px">1.27845</div><div class="pl" style="top:365px">1.27780</div><div class="pl" style="top:399px">1.27715</div><div class="pl" style="top:433px">1.27650</div><div class="pl" style="top:467px">1.27585</div><div class="pl" style="top:501px">1.27520</div><div class="pl" style="top:535px">1.27455</div><div class="pl" style="top:570px">1.27390</div><div class="pl" style="top:604px">1.27325</div><div class="pl" style="top:638px">1.27260</div><div class="pl" style="top:672px">1.27195</div><div class="pl" style="top:706px">1.27130</div><div class="pl" style="top:740px">1.27065</div>
<div class="tl" style="left:1px">3 Jul 2024</div><div class="tl" style="left:129px">3 Jul 23:00</div><div class="tl" style="left:257px">4 Jul 07:00</div><div class="tl" style="left:385px">4 Jul 15:00</div><div class="tl" style="left:513px">4 Jul 23:00</div><div class="tl" style="left:641px">5 Jul 07:00</div><div class="tl" style="left:769px">5 Jul 15:00</div><div class="tl" style="left:897px">5 Jul 23:00</div><div class="tl" style="left:1025px">8 Jul 07:00</div><div class="tl" style="left:1153px">8 Jul 15:00</div><div class="tl" style="left:1281px">8 Jul 23:00</div><div class="tl" style="left:1409px">9 Jul 07:00</div>
<div id="botline1"></div><div id="botline2"></div>
<svg id="icons" width="60" height="30" viewBox="0 0 60 30">
<rect x="11" y="13.6" width="6" height="8" fill="#fde3de"/><rect x="18.2" y="13.6" width="6.3" height="8" fill="#cfe8fb"/>
<path d="M17.6,11.5H10.4a1.5,1.5 0 0 0 -1.5,1.5V22.2a1.5,1.5 0 0 0 1.5,1.5H17.6" fill="none" stroke="#e45050" stroke-width="1.35"/>
<path d="M17.6,11.5H24.8a1.5,1.5 0 0 1 1.5,1.5V22.2a1.5,1.5 0 0 1 -1.5,1.5H17.6" fill="none" stroke="#1a69b5" stroke-width="1.35"/>
<g stroke="#e03535" stroke-width="1.1"><line x1="11" y1="14.1" x2="16.8" y2="14.1"/><line x1="11" y1="17.6" x2="16.8" y2="17.6"/><line x1="11" y1="21.3" x2="16.8" y2="21.3"/></g>
<g stroke="#1a69b5" stroke-width="1.1"><line x1="18.3" y1="14.1" x2="24.4" y2="14.1"/><line x1="18.3" y1="17.6" x2="24.4" y2="17.6"/><line x1="18.3" y1="21.3" x2="24.4" y2="21.3"/></g>
<path d="M36,11.8H39.1V17.2H42.8V23.5H36Z" fill="#fddcd4" stroke="#de3a3a" stroke-width="1.2" stroke-linejoin="round"/>
<path d="M53.1,11.8H50V17.2H46.1V23.5H53.1Z" fill="#bfe2fc" stroke="#1668b4" stroke-width="1.2" stroke-linejoin="round"/>
<rect x="42.2" y="11.4" width="5.2" height="2.2" rx="1.1" fill="#fff" stroke="#a9a9a9" stroke-width="1"/>
</svg>
<div id="title"><span class="tw" style="left:61.08px;transform:scaleX(0.924)">GBPUSDb,</span><span class="tw" style="left:120.98px;transform:scaleX(1.024)">H1:</span><span class="tw" style="left:147.67px;transform:scaleX(1.028)">Great</span><span class="tw" style="left:181.68px;transform:scaleX(1.016)">Britain</span><span class="tw" style="left:218.76px;transform:scaleX(1.039)">Pound</span><span class="tw" style="left:259.20px;transform:scaleX(0.800)">vs</span><span class="tw" style="left:272.85px;transform:scaleX(0.947)">US</span><span class="tw" style="left:291.67px;transform:scaleX(0.933)">Dollar</span></div>
<div id="ocp">
 <div style="position:absolute;left:6px;top:30px;width:251px;height:74px;background:#fff"></div>
 <div class="price" id="ps"></div><div class="price" id="pb"></div>
 <div class="btn" style="left:6px"><span style="left:13.4px;transform:scaleX(0.843)">SELL</span></div>
 <div class="btn" style="left:197px"><span style="left:15.9px;transform:scaleX(0.91)">BUY</span></div>
 <div class="sep" style="left:10px"></div><div class="sep" style="left:201px"></div>
 <div id="spin"><div class="l"><div class="tri" style="left:8px;top:10px;border-top:4px solid #111"></div></div><div class="v"><span>0.01</span></div><div class="r"><div class="tri" style="left:9px;top:9px;border-bottom:4px solid #111"></div></div></div>
 <div class="small" style="left:25.5px;top:81px">1.33</div>
 <div class="big" style="left:59.5px;top:62px">93</div>
 <div class="sup" style="left:104px;top:65.5px">9</div>
 <div class="small" style="left:151.7px;top:81px">1.33</div>
 <div class="big" style="left:186.3px;top:62px;transform:scaleX(0.93)">94</div>
 <div class="sup" style="left:231px;top:65.5px">1</div>
</div>
</body></html>
